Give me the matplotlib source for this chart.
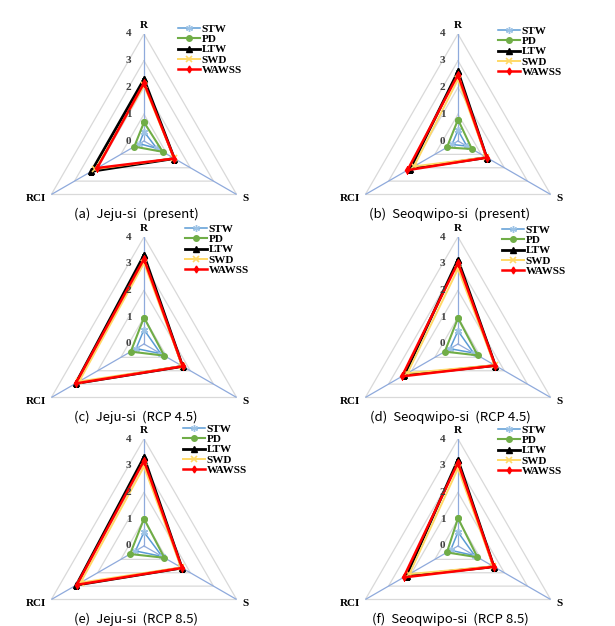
import numpy as np
import matplotlib as mpl
mpl.use('Agg')
import matplotlib.pyplot as plt

# axis names and series
spokes = ['R', 'S', 'RCI']
series = ['STW', 'PD', 'LTW', 'SWD', 'WAWSS']

# values per panel, one row per series, columns R, S, RCI
jeju_present = [[0.35, 0.55, 0.20],
                [0.70, 0.81, 0.42],
                [2.31, 1.31, 2.27],
                [2.08, 1.30, 2.10],
                [2.17, 1.31, 2.02]]
seoqwipo_present = [[0.40, 0.38, 0.26],
                    [0.80, 0.60, 0.48],
                    [2.60, 1.24, 2.06],
                    [2.30, 1.22, 1.90],
                    [2.48, 1.24, 2.18]]
jeju_rcp45 = [[0.54, 0.72, 0.34],
              [0.99, 0.87, 0.57],
              [3.32, 1.67, 2.95],
              [3.03, 1.65, 2.80],
              [3.18, 1.67, 2.95]]
seoqwipo_rcp45 = [[0.49, 0.67, 0.35],
                  [0.97, 0.85, 0.57],
                  [3.15, 1.61, 2.31],
                  [2.81, 1.58, 2.18],
                  [3.04, 1.61, 2.42]]
jeju_rcp85 = [[0.52, 0.78, 0.37],
              [1.02, 0.88, 0.60],
              [3.32, 1.64, 2.92],
              [2.97, 1.60, 2.74],
              [3.19, 1.64, 2.90]]
seoqwipo_rcp85 = [[0.52, 0.72, 0.32],
                  [1.04, 0.84, 0.48],
                  [3.22, 1.55, 2.22],
                  [2.90, 1.52, 2.10],
                  [3.12, 1.55, 2.35]]

titles = ['(a)  Jeju-si  (present)', '(b)  Seoqwipo-si  (present)',
          '(c)  Jeju-si  (RCP 4.5)', '(d)  Seoqwipo-si  (RCP 4.5)',
          '(e)  Jeju-si  (RCP 8.5)', '(f)  Seoqwipo-si  (RCP 8.5)']
panels = [jeju_present, seoqwipo_present, jeju_rcp45,
          seoqwipo_rcp45, jeju_rcp85, seoqwipo_rcp85]
levels = [0, 1, 2, 3, 4]

styles = {
    'STW':   dict(color='#5b9bd5', lw=1.1, marker=(6, 2, 0), ms=5,
                  mec='#9dc3e6', mfc='#9dc3e6'),
    'PD':    dict(color='#70ad47', lw=1.5, marker='o', ms=4),
    'LTW':   dict(color='black', lw=2.0, marker='^', ms=4.5),
    'SWD':   dict(color='#ffd966', lw=1.4, marker='x', ms=4.5, mew=1.2),
    'WAWSS': dict(color='#ff0000', lw=1.8, marker='d', ms=3.5),
}

W, H = 615, 626
fig = plt.figure(figsize=(W / 100, H / 100), dpi=100)

col_x = [144, 458]
row_y = [141, 344, 546]
rad = 107
legend_pos = [(178, 24), (498, 26), (185, 224), (502, 225), (183, 424), (498, 425)]

theta = np.array([0, 2 * np.pi / 3, 4 * np.pi / 3])
theta_c = np.append(theta, theta[0])

lab_font = dict(family='Liberation Serif', weight='bold')

for i, data in enumerate(panels):
    cx = col_x[i % 2]
    cy = row_y[i // 2]
    ax = fig.add_axes([(cx - rad) / W, (H - cy - rad) / H, 2 * rad / W, 2 * rad / H],
                      projection='polar')
    ax.set_theta_zero_location('N')
    ax.set_theta_direction(-1)
    ax.set_ylim(0, 4)
    ax.grid(False)
    ax.set_xticks([])
    ax.set_yticks([])
    ax.spines['polar'].set_visible(False)
    ax.patch.set_alpha(0)

    # triangular gridlines and spokes
    for lv in levels[1:]:
        ax.plot(theta_c, [lv] * 4, color='#d9d9d9', lw=0.9, zorder=1)
    for t in theta:
        ax.plot([t, t], [0, 4], color='#8faadc', lw=0.9, zorder=1)

    for name, vals in zip(series, data):
        v = np.append(vals, vals[0])
        ax.plot(theta_c, v, label=name, zorder=3, **styles[name])

    # radial tick labels
    for lv in levels:
        ax.annotate(str(lv), xy=(0, lv), xytext=(-9, 0), textcoords='offset points',
                    ha='right', va='center', fontsize=8, color='#404040', **lab_font)

    # spoke labels
    ax.annotate('R', xy=(0, 4), xytext=(0, 3), textcoords='offset points',
                ha='center', va='bottom', fontsize=8, **lab_font)
    ax.annotate('S', xy=(theta[1], 4), xytext=(4, -3), textcoords='offset points',
                ha='left', va='center', fontsize=8, **lab_font)
    ax.annotate('RCI', xy=(theta[2], 4), xytext=(-4, -3), textcoords='offset points',
                ha='right', va='center', fontsize=8, **lab_font)

    lx, ly = legend_pos[i]
    ax.legend(loc='upper left', bbox_to_anchor=(lx / W, 1 - ly / H),
              bbox_transform=fig.transFigure, frameon=False,
              prop=dict(family='Liberation Serif', weight='bold', size=8),
              handlelength=2.0, handletextpad=0.15, labelspacing=0.05,
              borderpad=0, borderaxespad=0)

    fig.text((cx - 8) / W, 1 - (cy + 73) / H, titles[i], ha='center', va='center',
             fontsize=9.5, family='Noto Sans CJK KR')

fig.savefig('out.png', dpi=100)
